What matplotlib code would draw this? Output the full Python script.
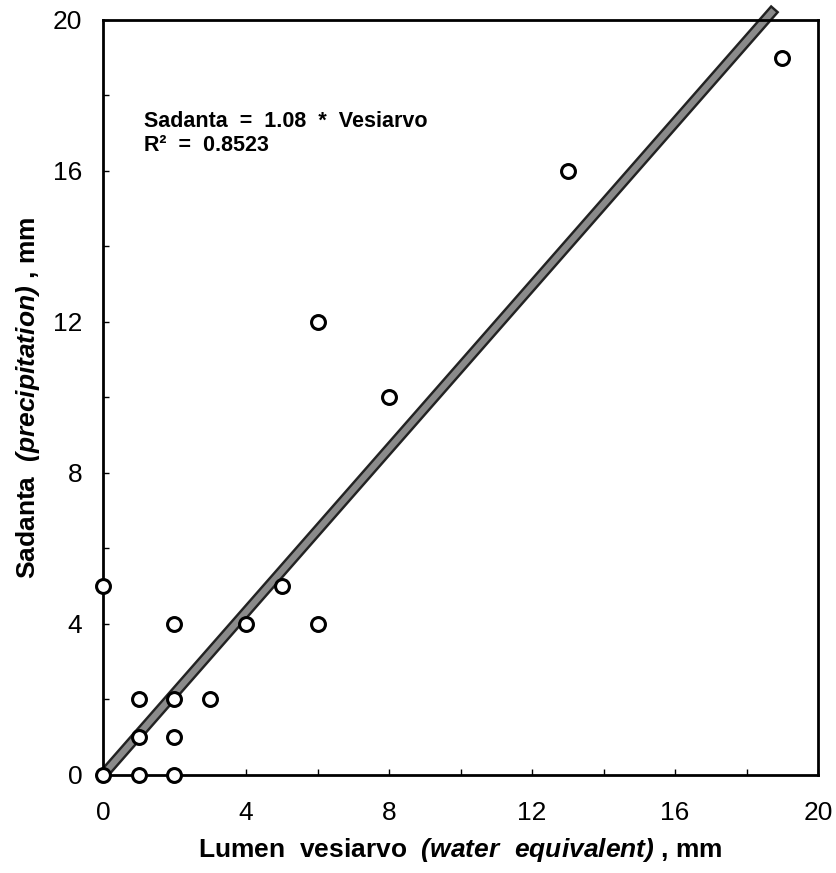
"""
Sadanta vs lumen vesiarvo - scatter with fitted line through origin
"""

import matplotlib
matplotlib.use("Agg")
import matplotlib.pyplot as plt
import matplotlib.patheffects as pe
import numpy as np

# mathtext only used for the italic parts of the axis labels
plt.rcParams.update({
    "font.family": ["Liberation Sans", "DejaVu Sans"],
    "mathtext.fontset": "custom",
    "mathtext.rm": "Liberation Sans:style=italic:weight=bold",
    "mathtext.it": "Liberation Sans:style=italic:weight=bold",
    "mathtext.bf": "Liberation Sans:weight=bold",
})

# data
vesiarvo = [0, 0, 1, 1, 1, 2, 2, 2, 2, 3, 4, 5, 6, 6, 8, 13, 19]
sadanta = [0, 5, 0, 1, 2, 0, 1, 2, 4, 2, 4, 5, 4, 12, 10, 16, 19]
kerroin = 1.08
r2 = 0.8523
tiks = [0, 4, 8, 12, 16, 20]

fig = plt.figure(figsize=(8.36, 8.73), dpi=100)
ax = fig.add_axes([0.1232, 0.1123, 0.8553, 0.8648])

# regression line (grey, dark outline), runs past the top of the frame
xs = np.array([0, 18.7])
ax.plot(xs, kerroin * xs, color="#8a8a8a", lw=4.5, clip_on=False, zorder=2,
        path_effects=[pe.Stroke(linewidth=8, foreground="#222222"), pe.Normal()])

ax.plot(vesiarvo, sadanta, "o", ms=10, mfc="white", mec="black", mew=2.2,
        clip_on=False, zorder=3)

ax.set_xlim(0, 20)
ax.set_ylim(0, 20)
ax.set_xticks(tiks)
ax.set_yticks(tiks)
ax.set_xticks(np.arange(0, 21, 2), minor=True)
ax.set_yticks(np.arange(0, 21, 2), minor=True)
ax.tick_params(which="both", direction="in", length=4, width=1, labelsize=19)
ax.tick_params(axis="x", which="both", pad=19)
ax.tick_params(axis="y", which="both", pad=15)
for s in ax.spines.values():
    s.set_linewidth(2)

ax.set_xlabel(r"Lumen  vesiarvo  $(water\ \ equivalent)$ , mm",
              fontsize=19, fontweight="bold", labelpad=8)
ax.set_ylabel(r"Sadanta  $(precipitation)$ , mm",
              fontsize=19, fontweight="bold", labelpad=8)

ax.text(1.15, 17.0,
        f"Sadanta  =  {kerroin:.2f}  *  Vesiarvo\nR\u00b2  =  {r2:.4f}",
        fontsize=15.5, fontweight="bold", va="center", ha="left", linespacing=1.2)

fig.savefig("out.png", dpi=100)
plt.close(fig)
